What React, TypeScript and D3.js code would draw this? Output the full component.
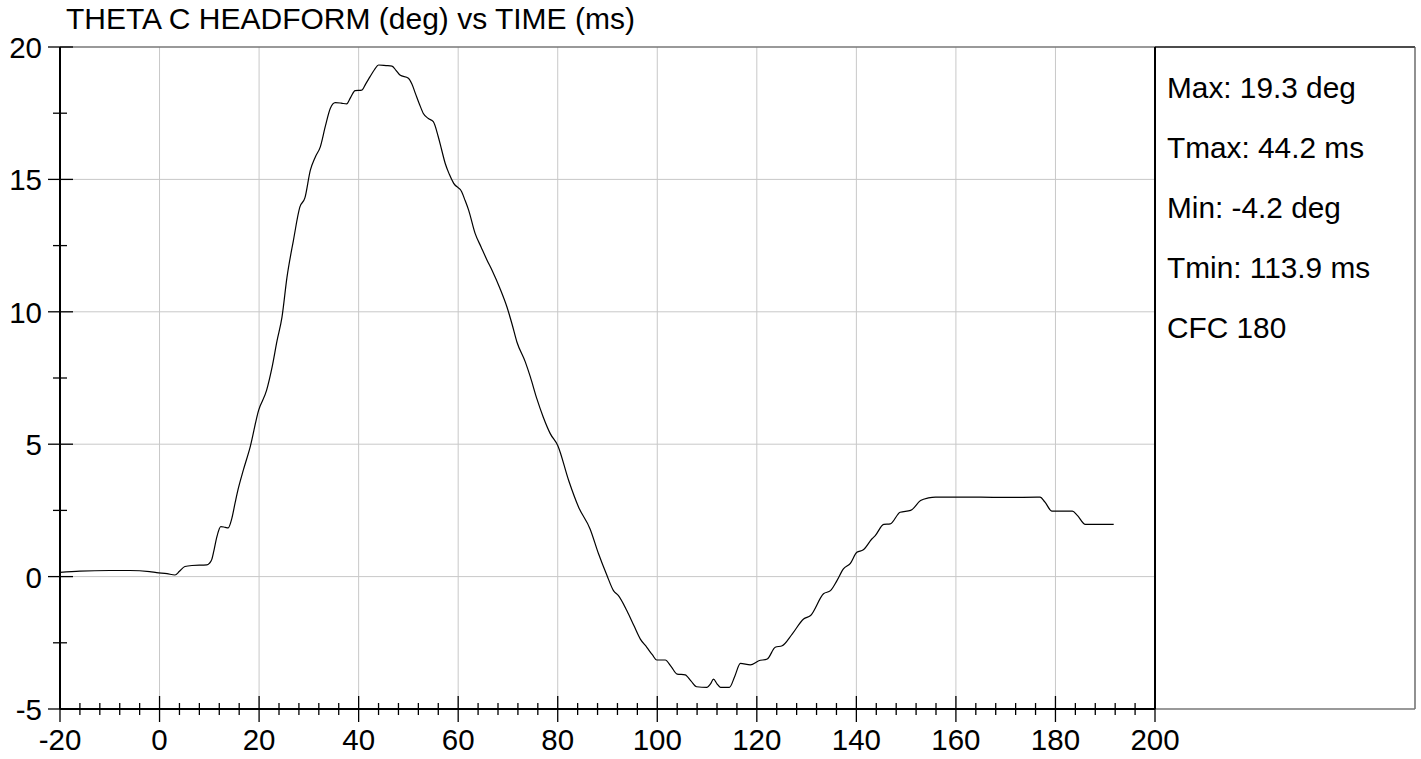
import React from "react";
import * as d3 from "d3";

const title = "THETA C HEADFORM (deg) vs TIME (ms)";
const xTickValues = [-20, 0, 20, 40, 60, 80, 100, 120, 140, 160, 180, 200];
const yTickValues = [-5, 0, 5, 10, 15, 20];
const statsLines = ["Max: 19.3 deg", "Tmax: 44.2 ms", "Min: -4.2 deg", "Tmin: 113.9 ms", "CFC 180"];

const timeMs = [
  -20, -16, -10, -6, -2, -0.6, 1.5, 3.1, 4.0, 5.1, 6.5, 9.5, 10.0, 10.5, 11.0, 11.5, 12.3, 13.2, 13.8, 14.5,
  15.2, 15.8, 16.8, 18.2, 19.9, 21.5, 22.6, 23.6, 24.6, 25.6, 26.9, 28.2, 29.2, 30.3, 31.3, 32.3, 33.3, 34.3,
  35.3, 36.5, 37.6, 38.4, 39.3, 40.6, 41.4, 42.3, 43.2, 44.0, 45.5, 46.7, 47.5, 48.3, 50.0, 50.7, 51.4, 52.2,
  53.0, 54.0, 55.0, 56.0, 56.7, 57.4, 58.2, 59.1, 60.7, 61.4, 62.1, 63.4, 64.6, 65.8, 66.8, 68.4, 69.8, 70.8,
  71.8, 73.5, 74.5, 75.8, 77.1, 78.5, 80.0, 82.2, 84.2, 86.5, 88.2, 89.9, 91.2, 92.2, 93.9, 95.3, 96.6, 97.9,
  99.0, 99.9, 101.6, 102.8, 104.0, 105.6, 106.8, 107.9, 110.0, 110.7, 111.3, 112.0, 112.7, 114.5, 115.6, 116.7,
  118.7, 120.4, 122.1, 123.7, 125.1, 127.1, 129.4, 130.8, 133.4, 134.8, 136.1, 137.4, 138.8, 140.1, 141.4,
  143.1, 143.8, 145.5, 146.8, 148.8, 150.9, 152.9, 154.5, 155.9, 165, 170, 176.9, 177.9, 179.3, 183.4, 184.4,
  186.0, 191.7,
];
const thetaDeg = [
  0.16, 0.21, 0.23, 0.23, 0.19, 0.15, 0.11, 0.06, 0.2, 0.38, 0.42, 0.44, 0.5, 0.65, 1.05, 1.49, 1.89, 1.86, 1.84, 2.18,
  2.8, 3.31, 4.0, 4.89, 6.28, 7.03, 7.9, 8.9, 9.8, 11.3, 12.7, 13.96, 14.3, 15.35, 15.85, 16.23, 17.0, 17.68,
  17.9, 17.88, 17.85, 18.1, 18.35, 18.37, 18.6, 18.88, 19.15, 19.32, 19.3, 19.28, 19.12, 18.94, 18.82, 18.6, 18.25, 17.85,
  17.49, 17.3, 17.18, 16.61, 16.1, 15.6, 15.2, 14.85, 14.53, 14.2, 13.84, 12.96, 12.45, 11.95, 11.57, 10.88, 10.18, 9.55,
  8.86, 8.1, 7.54, 6.72, 6.02, 5.4, 4.95, 3.63, 2.62, 1.8, 0.86, 0.04, -0.53, -0.72, -1.29, -1.85, -2.36, -2.67,
  -2.95, -3.15, -3.15, -3.4, -3.68, -3.71, -3.95, -4.16, -4.18, -4.05, -3.87, -4.05, -4.18, -4.18, -3.75, -3.28,
  -3.33, -3.18, -3.11, -2.67, -2.61, -2.17, -1.6, -1.47, -0.65, -0.53, -0.15, 0.29, 0.5, 0.92, 1.01,
  1.42, 1.55, 1.97, 1.99, 2.43, 2.5, 2.87, 2.97, 3.0, 3.0, 2.99, 3.0, 2.81, 2.47, 2.47, 2.31,
  1.97, 1.97,
];

const FONT = "'Liberation Sans', Arial, sans-serif";

export default function App() {
  const W = 1421, H = 759;
  const left = 60, right = 1155, top = 47, bottom = 709, boxRight = 1415;
  const x = d3.scaleLinear().domain([-20, 200]).range([left, right]);
  const y = d3.scaleLinear().domain([-5, 20]).range([bottom, top]);

  const data = timeMs.map((t, i) => [t, thetaDeg[i]] as [number, number]);
  const line = d3.line<[number, number]>()
    .x(d => x(d[0]))
    .y(d => y(d[1]))
    .curve(d3.curveMonotoneX);

  const minorX = d3.range(-20, 201, 4).filter(v => v % 20 !== 0);
  const minorY = d3.range(-2.5, 20, 5);

  return (
    <svg width={W} height={H} style={{ position: "absolute", left: 0, top: 0, background: "#fff" }}
      fontFamily={FONT}>
      <rect x={0} y={0} width={W} height={H} fill="#fff" />
      {/* grid */}
      {xTickValues.slice(1, -1).map(v => (
        <line key={"gx" + v} x1={x(v)} x2={x(v)} y1={top} y2={bottom} stroke="#c8c8c8" strokeWidth={1} />
      ))}
      {yTickValues.slice(1, -1).map(v => (
        <line key={"gy" + v} x1={left} x2={right} y1={y(v)} y2={y(v)} stroke="#c8c8c8" strokeWidth={1} />
      ))}
      {/* top frame */}
      <line x1={left} x2={right} y1={top} y2={top} stroke="#777" strokeWidth={1.5} />
      {/* stats box */}
      <line x1={right} x2={boxRight} y1={top} y2={top} stroke="#111" strokeWidth={1.5} />
      <line x1={boxRight} x2={boxRight} y1={top} y2={bottom} stroke="#555" strokeWidth={1.3} />
      <line x1={right} x2={boxRight} y1={bottom} y2={bottom} stroke="#777" strokeWidth={1.5} />
      <line x1={right} x2={right} y1={top} y2={bottom} stroke="#000" strokeWidth={2} />
      {/* curve */}
      <path d={line(data) || ""} fill="none" stroke="#000" strokeWidth={1.2} />
      {/* axes */}
      <line x1={left} x2={left} y1={top} y2={bottom} stroke="#000" strokeWidth={2} />
      <line x1={left} x2={right} y1={bottom} y2={bottom} stroke="#000" strokeWidth={2} />
      {yTickValues.map(v => (
        <line key={"ty" + v} x1={48} x2={v === -5 ? left : 73} y1={y(v)} y2={y(v)} stroke="#000" strokeWidth={1.3} />
      ))}
      {minorY.map(v => (
        <line key={"my" + v} x1={53} x2={67} y1={y(v)} y2={y(v)} stroke="#000" strokeWidth={1.3} />
      ))}
      {xTickValues.map(v => (
        <line key={"tx" + v} x1={x(v)} x2={x(v)} y1={v === -20 ? bottom : 696} y2={722} stroke="#000" strokeWidth={1.3} />
      ))}
      {minorX.map(v => (
        <line key={"mx" + v} x1={x(v)} x2={x(v)} y1={703} y2={715} stroke="#000" strokeWidth={1.3} />
      ))}
      {/* tick labels */}
      {yTickValues.map(v => (
        <text key={"ly" + v} x={42} y={y(v) + 11} textAnchor="end" fontSize={29.5} fill="#000">{v}</text>
      ))}
      {xTickValues.map(v => (
        <text key={"lx" + v} x={x(v)} y={750} textAnchor="middle" fontSize={29.5} fill="#000">{v}</text>
      ))}
      {/* title */}
      <text x={66} y={29} fontSize={30} fill="#000">{title}</text>
      {/* stats */}
      {statsLines.map((s, i) => (
        <text key={"s" + i} x={1167} y={97.5 + i * 60} fontSize={29.8} fill="#000">{s}</text>
      ))}
    </svg>
  );
}
